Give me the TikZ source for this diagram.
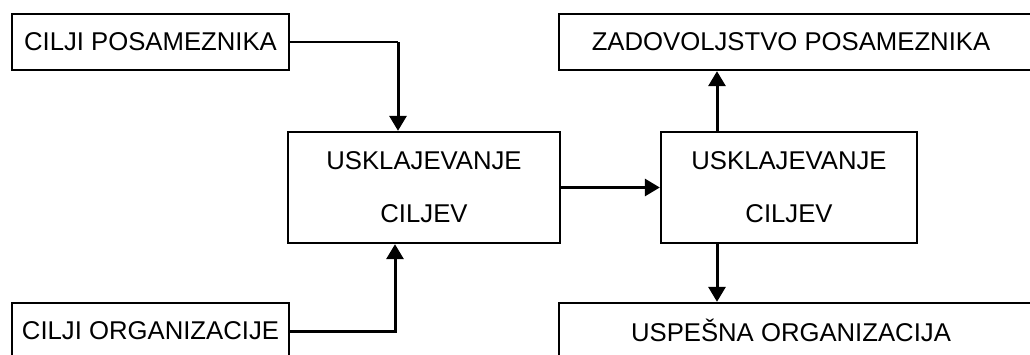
\documentclass[tikz,border=0pt]{standalone}
\usepackage{fontspec}
\setmainfont{Liberation Sans}
\usetikzlibrary{arrows.meta}
\begin{document}
\begin{tikzpicture}[x=1pt,y=-1pt,
 box/.style={draw,line width=2.3pt,inner sep=0pt,font=\fontsize{25.7}{53}\selectfont,align=center},
 lbl/.style={inner sep=0pt,font=\fontsize{25.7}{30}\selectfont},
 conn/.style={line width=3pt,-{Triangle[length=15pt,width=17pt]}},
 thinconn/.style={line width=1.6pt}]
\useasboundingbox (0,0) rectangle (1030,355);
\clip (0,0) rectangle (1030,355);
\fill[white] (0,0) rectangle (1030,355);
% left boxes
\node[box,minimum width=277pt,minimum height=56pt] (cp) at (150.5,42) {CILJI POSAMEZNIKA};
\node[box,minimum width=277pt,minimum height=56pt] (co) at (150.5,331) {CILJI ORGANIZACIJE};
% centre boxes
\node[box,minimum width=272pt,minimum height=111pt] (L) at (424,187.5) {USKLAJEVANJE\\CILJEV};
\node[box,minimum width=256pt,minimum height=111pt] (R) at (789,187.5) {USKLAJEVANJE\\CILJEV};
% right boxes (run past the page edge)
\node[box,minimum width=486pt,minimum height=56pt] (Z) at (802,42) {};
\node[lbl] (Zt) at (791,42) {ZADOVOLJSTVO POSAMEZNIKA};
\node[box,minimum width=486pt,minimum height=58pt] (U) at (802,332) {};
\node[lbl] (Ut) at (791,330) {USPEŠNA ORGANIZACIJA};
% connectors
\coordinate (k1) at (398,42);
\draw[thinconn] (cp.east) -- (k1);
\draw[conn] (k1) -- (k1 |- L.north);
\coordinate (k2) at (395,331);
\draw[conn] (co.east) -- (k2) -- (k2 |- L.south);
\draw[conn] (L.east) -- (R.west);
\draw[conn] ([xshift=-72pt]R.north) -- ([xshift=-72pt]R.north |- Z.south);
\draw[conn] ([xshift=-72pt]R.south) -- ([xshift=-72pt]R.south |- U.north);
\end{tikzpicture}
\end{document}
